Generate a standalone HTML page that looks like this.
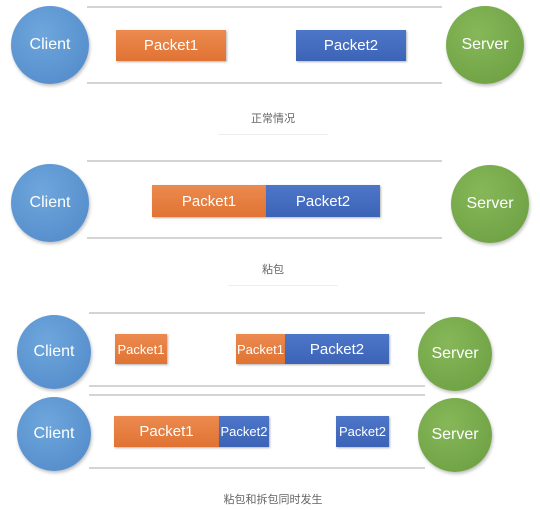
<!DOCTYPE html>
<html><head><meta charset="utf-8"><style>
body{margin:0;width:540px;height:510px;background:#fff;position:relative;overflow:hidden;font-family:"Liberation Sans","Noto Sans CJK SC",sans-serif}
.l{position:absolute;height:2px;background:#d4d4d4}
.c{position:absolute;border-radius:50%;color:#fff;display:flex;align-items:center;justify-content:center;font-size:16px;box-shadow:1px 2px 3px rgba(0,0,0,.25)}
.cl{background:radial-gradient(circle at 40% 35%,#6ea6dc,#4f88c8)}
.sv{background:radial-gradient(circle at 40% 35%,#86b85a,#6a9d3f)}
.p{position:absolute;color:#fff;display:flex;align-items:center;justify-content:center;font-size:15px;box-shadow:1px 1px 2px rgba(0,0,0,.3)}
.o{background:linear-gradient(#ec8a4f,#e07333)}
.b{background:linear-gradient(#4d76c9,#3c63b6)}
.t{position:absolute;font-size:11px;color:#666;width:120px;text-align:center}
.u{position:absolute;height:1px;background:#eee}
</style></head><body>
<div class="l" style="left:87px;top:6px;width:355px"></div>
<div class="l" style="left:87px;top:82px;width:355px"></div>
<div class="c cl" style="left:11px;top:6px;width:78px;height:78px">Client</div>
<div class="c sv" style="left:446px;top:6px;width:78px;height:78px">Server</div>
<div class="p o" style="left:116px;top:30px;width:110px;height:31px">Packet1</div>
<div class="p b" style="left:296px;top:30px;width:110px;height:31px">Packet2</div>
<div class="t" style="left:213px;top:110px">正常情况</div>
<div class="u" style="left:218px;top:134px;width:110px"></div>

<div class="l" style="left:87px;top:160px;width:355px"></div>
<div class="l" style="left:87px;top:237px;width:355px"></div>
<div class="c cl" style="left:11px;top:164px;width:78px;height:78px">Client</div>
<div class="c sv" style="left:451px;top:165px;width:78px;height:78px">Server</div>
<div class="p o" style="left:152px;top:185px;width:114px;height:32px">Packet1</div>
<div class="p b" style="left:266px;top:185px;width:114px;height:32px">Packet2</div>
<div class="t" style="left:213px;top:261px">粘包</div>
<div class="u" style="left:228px;top:285px;width:110px"></div>

<div class="l" style="left:89px;top:312px;width:336px"></div>
<div class="l" style="left:89px;top:385px;width:336px"></div>
<div class="c cl" style="left:17px;top:315px;width:74px;height:74px">Client</div>
<div class="c sv" style="left:418px;top:317px;width:74px;height:74px">Server</div>
<div class="p o" style="left:115px;top:334px;width:52px;height:30px;font-size:13px">Packet1</div>
<div class="p o" style="left:236px;top:334px;width:49px;height:30px;font-size:13px">Packet1</div>
<div class="p b" style="left:285px;top:334px;width:104px;height:30px">Packet2</div>

<div class="l" style="left:89px;top:394px;width:336px"></div>
<div class="l" style="left:89px;top:467px;width:336px"></div>
<div class="c cl" style="left:17px;top:397px;width:74px;height:74px">Client</div>
<div class="c sv" style="left:418px;top:398px;width:74px;height:74px">Server</div>
<div class="p o" style="left:114px;top:416px;width:105px;height:31px">Packet1</div>
<div class="p b" style="left:219px;top:416px;width:50px;height:31px;font-size:13px">Packet2</div>
<div class="p b" style="left:336px;top:416px;width:53px;height:31px;font-size:13px">Packet2</div>
<div class="t" style="left:213px;top:491px">粘包和拆包同时发生</div>
</body></html>
